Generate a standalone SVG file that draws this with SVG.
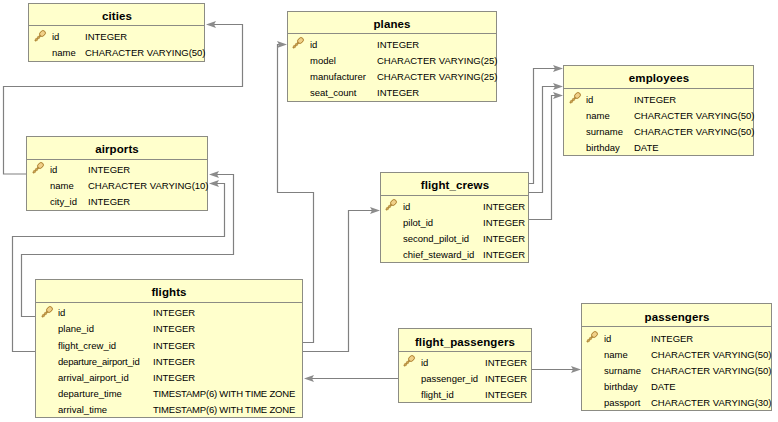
<svg xmlns="http://www.w3.org/2000/svg" width="778" height="422" viewBox="0 0 778 422">
<style>
.box{fill:#ffffcc;stroke:#8c8c84;stroke-width:1}
.sep{stroke:#8c8c84;stroke-width:1;fill:none}
.t{font:bold 11.5px "Liberation Sans",Arial,sans-serif;fill:#000;text-anchor:middle;letter-spacing:.1px}
.c{font:9.5px "Liberation Sans",Arial,sans-serif;fill:#000}
.ts{letter-spacing:-.2px}
.l{fill:none;stroke:#808080;stroke-width:1.2}
.a{fill:#8c8c8c;stroke:none}
</style>
<defs>
<g id="key"><path d="M-5 5 L1 -1" stroke="#b08a3c" stroke-width="2.2" fill="none"/><path d="M-4.500 2.500 L-2.500 4.500 M-2.500 .5 L-.5 2.500" stroke="#c8a050" stroke-width="1.2" fill="none"/><ellipse cx="2.500" cy="-2.500" rx="3.200" ry="2.500" transform="rotate(-45 2.500 -2.500)" fill="#f0d088" stroke="#a87a28" stroke-width=".9"/></g>
<path id="al" class="a" d="M0 0 L10 -3.500 L8 0 L10 3.500Z"/>
<path id="ar" class="a" d="M0 0 L-10 -3.500 L-8 0 L-10 3.500Z"/>
</defs>
<rect width="778" height="422" fill="#fff"/>
<g id="connectors">
<path class="l" d="M26 174H3.500V86.500H242.500V24.500H208"/><use href="#al" x="206" y="24.500"/>
<path class="l" d="M35 316.500H21.500V254.500H233.500V174.500H211"/><use href="#al" x="209" y="174.500"/>
<path class="l" d="M35 351.500H12.500V236.500H224.500V183.500H211"/><use href="#al" x="209" y="183.500"/>
<path class="l" d="M303 342.500H313.500V192.500H277.500V44.500H285"/><use href="#ar" x="287" y="44.500"/>
<path class="l" d="M303 351.500H348.500V210.500H378"/><use href="#ar" x="380" y="210.500"/>
<path class="l" d="M529 183.500H533.500V68.500H561"/><use href="#ar" x="563" y="68.500"/>
<path class="l" d="M529 192.500H542.500V86.500H561"/><use href="#ar" x="563" y="86.500"/>
<path class="l" d="M529 219.500H551.500V95.500H561"/><use href="#ar" x="563" y="95.500"/>
<path class="l" d="M398 378.500H306"/><use href="#al" x="304" y="378.500"/>
<path class="l" d="M532 369.500H579"/><use href="#ar" x="581" y="369.500"/>
</g>
<g id="cities">
<rect class="box" x="28.500" y="3.500" width="176" height="58"/><path class="sep" d="M28.500 25.500H204.500"/>
<text class="t" x="117" y="20">cities</text><use href="#key" x="40" y="36"/>
<text class="c" x="52" y="40">id</text><text class="c" x="85" y="40">INTEGER</text>
<text class="c" x="52" y="56">name</text><text class="c" x="85" y="56">CHARACTER VARYING(50)</text>
</g>
<g id="airports">
<rect class="box" x="26.500" y="136.500" width="181" height="74"/><path class="sep" d="M26.500 159.500H207.500"/>
<text class="t" x="117" y="153">airports</text><use href="#key" x="38" y="168"/>
<text class="c" x="50" y="173">id</text><text class="c" x="88" y="173">INTEGER</text>
<text class="c" x="50" y="189">name</text><text class="c" x="88" y="189">CHARACTER VARYING(10)</text>
<text class="c" x="50" y="205">city_id</text><text class="c" x="88" y="205">INTEGER</text>
</g>
<g id="planes">
<rect class="box" x="287.500" y="11.500" width="209" height="90"/><path class="sep" d="M287.500 33.500H496.500"/>
<text class="t" x="392" y="28">planes</text><use href="#key" x="298" y="43"/>
<text class="c" x="310" y="48">id</text><text class="c" x="377" y="48">INTEGER</text>
<text class="c" x="310" y="64">model</text><text class="c" x="377" y="64">CHARACTER VARYING(25)</text>
<text class="c" x="310" y="80">manufacturer</text><text class="c" x="377" y="80">CHARACTER VARYING(25)</text>
<text class="c" x="310" y="96">seat_count</text><text class="c" x="377" y="96">INTEGER</text>
</g>
<g id="employees">
<rect class="box" x="563.500" y="65.500" width="190" height="90"/><path class="sep" d="M563.500 88.500H753.500"/>
<text class="t" x="659" y="82">employees</text><use href="#key" x="575" y="98"/>
<text class="c" x="586" y="103">id</text><text class="c" x="634" y="103">INTEGER</text>
<text class="c" x="586" y="119">name</text><text class="c" x="634" y="119">CHARACTER VARYING(50)</text>
<text class="c" x="586" y="135">surname</text><text class="c" x="634" y="135">CHARACTER VARYING(50)</text>
<text class="c" x="586" y="151">birthday</text><text class="c" x="634" y="151">DATE</text>
</g>
<g id="flight_crews">
<rect class="box" x="380.500" y="172.500" width="148" height="90"/><path class="sep" d="M380.500 195.500H528.500"/>
<text class="t" x="455" y="189">flight_crews</text><use href="#key" x="391" y="205"/>
<text class="c" x="403" y="210">id</text><text class="c" x="483" y="210">INTEGER</text>
<text class="c" x="403" y="226">pilot_id</text><text class="c" x="483" y="226">INTEGER</text>
<text class="c" x="403" y="242">second_pilot_id</text><text class="c" x="483" y="242">INTEGER</text>
<text class="c" x="403" y="258">chief_steward_id</text><text class="c" x="483" y="258">INTEGER</text>
</g>
<g id="flights">
<rect class="box" x="35.500" y="279.500" width="267" height="138"/><path class="sep" d="M35.500 302.500H302.500"/>
<text class="t" x="169" y="296">flights</text><use href="#key" x="47" y="312"/>
<text class="c" x="58" y="316">id</text><text class="c" x="153" y="316">INTEGER</text>
<text class="c" x="58" y="332">plane_id</text><text class="c" x="153" y="332">INTEGER</text>
<text class="c" x="58" y="349">flight_crew_id</text><text class="c" x="153" y="349">INTEGER</text>
<text class="c ts" x="58" y="365">departure_airport_id</text><text class="c" x="153" y="365">INTEGER</text>
<text class="c" x="58" y="381">arrival_airport_id</text><text class="c" x="153" y="381">INTEGER</text>
<text class="c" x="58" y="397">departure_time</text><text class="c ts" x="153" y="397">TIMESTAMP(6) WITH TIME ZONE</text>
<text class="c" x="58" y="413">arrival_time</text><text class="c ts" x="153" y="413">TIMESTAMP(6) WITH TIME ZONE</text>
</g>
<g id="flight_passengers">
<rect class="box" x="398.500" y="328.500" width="133" height="74"/><path class="sep" d="M398.500 351.500H531.500"/>
<text class="t" x="465" y="346">flight_passengers</text><use href="#key" x="409" y="361"/>
<text class="c" x="421" y="366">id</text><text class="c" x="485" y="366">INTEGER</text>
<text class="c" x="421" y="382">passenger_id</text><text class="c" x="485" y="382">INTEGER</text>
<text class="c" x="421" y="398">flight_id</text><text class="c" x="485" y="398">INTEGER</text>
</g>
<g id="passengers">
<rect class="box" x="581.500" y="303.500" width="190" height="107"/><path class="sep" d="M581.500 326.500H771.500"/>
<text class="t" x="677" y="321">passengers</text><use href="#key" x="592" y="337"/>
<text class="c" x="604" y="342">id</text><text class="c" x="651" y="342">INTEGER</text>
<text class="c" x="604" y="358">name</text><text class="c" x="651" y="358">CHARACTER VARYING(50)</text>
<text class="c" x="604" y="374">surname</text><text class="c" x="651" y="374">CHARACTER VARYING(50)</text>
<text class="c" x="604" y="390">birthday</text><text class="c" x="651" y="390">DATE</text>
<text class="c" x="604" y="406">passport</text><text class="c" x="651" y="406">CHARACTER VARYING(30)</text>
</g>
</svg>
